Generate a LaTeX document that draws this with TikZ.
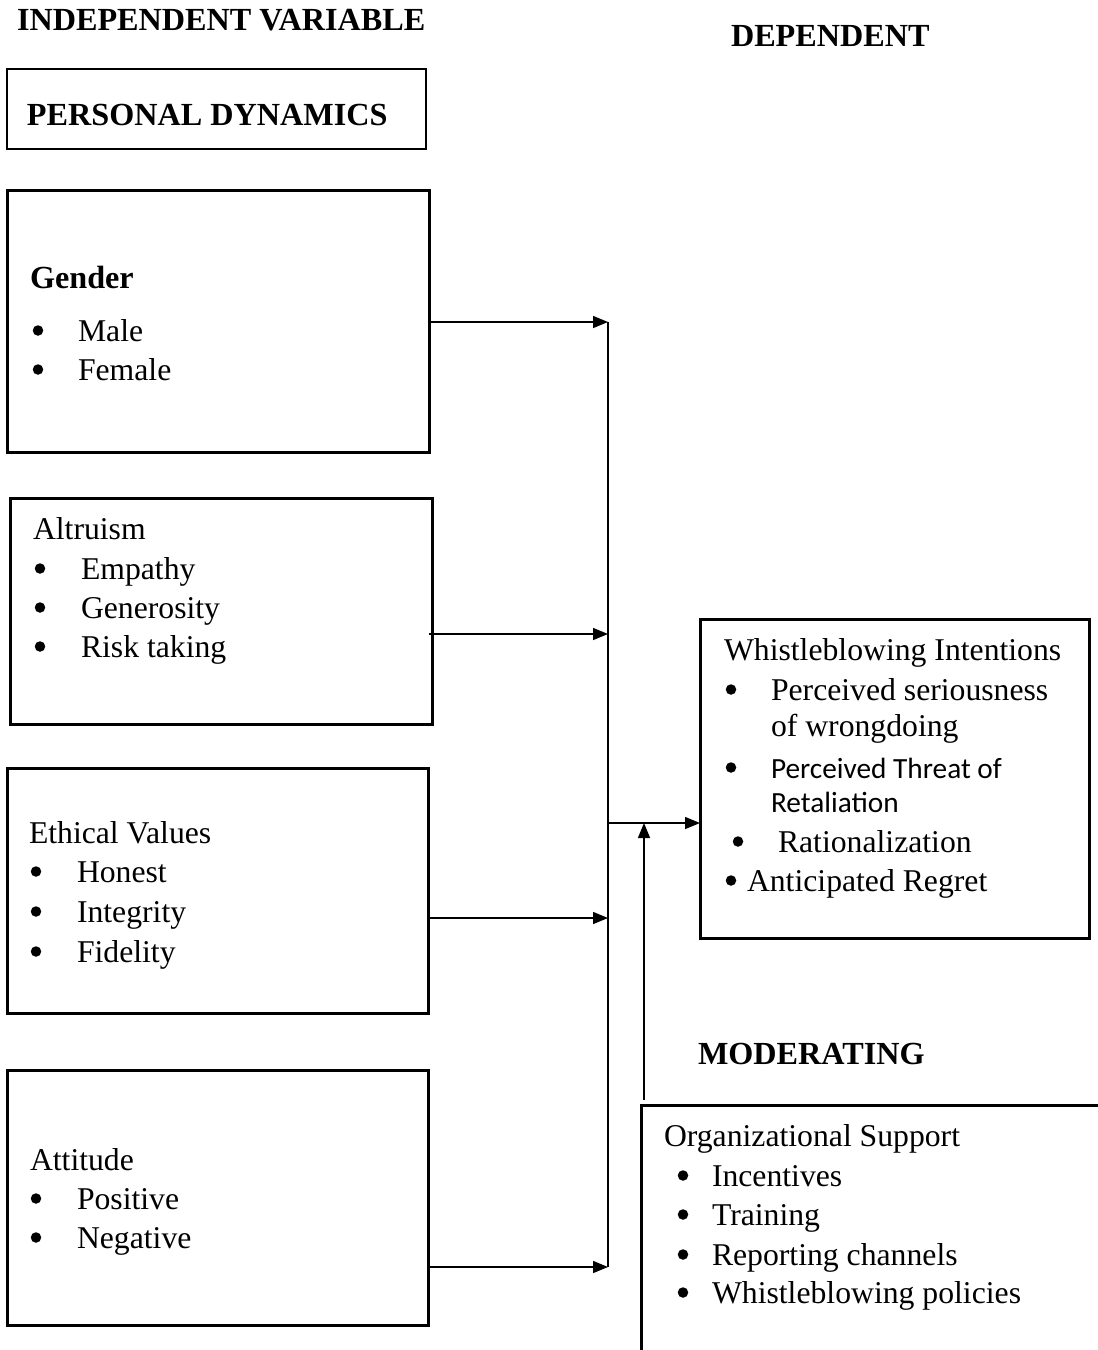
\documentclass[tikz,border=0pt]{standalone}
\usepackage{fontspec}
\setmainfont{Liberation Serif}
\newfontfamily\calfont{Carlito}
\usetikzlibrary{arrows.meta}
\begin{document}
\begin{tikzpicture}[x=1pt,y=-1pt,
  every node/.style={inner sep=0pt, outer sep=0pt},
  txt/.style={anchor=base west, font=\fontsize{31.7}{38}\selectfont},
  btxt/.style={anchor=base west, font=\fontsize{32.2}{38}\selectfont\bfseries},
  ctxt/.style={anchor=base west, font=\fontsize{29.3}{35}\selectfont\calfont},
  dot/.style={circle, fill=black, minimum size=10.5pt},
  thickbox/.style={draw, line width=3pt, rectangle, anchor=north west},
  thinbox/.style={draw, line width=1.2pt, rectangle, anchor=north west},
  arr/.style={line width=1.5pt, -{Triangle[length=15pt,width=12pt]}},
  ln/.style={line width=1.5pt}]
\useasboundingbox (0,0) rectangle (1098,1350);

% titles
\node[btxt] (indep) at (17,30) {INDEPENDENT VARIABLE};
\node[btxt] (dep) at (731,46) {DEPENDENT};
\node[btxt] (mod) at (698,1064) {MODERATING};

% personal dynamics
\node[thinbox, minimum width=419pt, minimum height=80pt] (pd) at (7,69) {};
\node[btxt] (pdt) at (27,125) {PERSONAL DYNAMICS};

% gender
\node[thickbox, minimum width=422pt, minimum height=262pt] (gender) at (7,190) {};
\node[btxt] (g0) at (30,288) {Gender};
\node[dot] (g1d) at (38,330.5) {};
\node[txt] (g1) at (78,341) {Male};
\node[dot] (g2d) at (38,369.5) {};
\node[txt] (g2) at (78,380) {Female};

% altruism
\node[thickbox, minimum width=422pt, minimum height=226pt] (altr) at (10,498) {};
\node[txt] (a0) at (33,539) {Altruism};
\node[dot] (a1d) at (40,568.5) {};
\node[txt] (a1) at (81,579) {Empathy};
\node[dot] (a2d) at (40,607.5) {};
\node[txt] (a2) at (81,618) {Generosity};
\node[dot] (a3d) at (40,646.5) {};
\node[txt] (a3) at (81,657) {Risk taking};

% ethical values
\node[thickbox, minimum width=421pt, minimum height=245pt] (eth) at (7,768) {};
\node[txt] (e0) at (29,843) {Ethical Values};
\node[dot] (e1d) at (36,871.5) {};
\node[txt] (e1) at (77,882) {Honest};
\node[dot] (e2d) at (36,911.5) {};
\node[txt] (e2) at (77,922) {Integrity};
\node[dot] (e3d) at (36,951.5) {};
\node[txt] (e3) at (77,962) {Fidelity};

% attitude
\node[thickbox, minimum width=421pt, minimum height=255pt] (att) at (7,1070) {};
\node[txt] (t0) at (30,1170) {Attitude};
\node[dot] (t1d) at (36,1198.5) {};
\node[txt] (t1) at (77,1209) {Positive};
\node[dot] (t2d) at (36,1237.5) {};
\node[txt] (t2) at (77,1248) {Negative};

% whistleblowing intentions
\node[thickbox, minimum width=389pt, minimum height=319pt] (wb) at (700,619) {};
\node[txt] (w0) at (724,660) {Whistleblowing Intentions};
\node[dot] (w1d) at (731,689.5) {};
\node[txt] (w1) at (771,700) {Perceived seriousness};
\node[txt] (w2) at (771,736) {of wrongdoing};
\node[dot] (w3d) at (731,767.5) {};
\node[ctxt] (w3) at (771,778) {Perceived Threat of};
\node[ctxt] (w4) at (771,812) {Retaliation};
\node[dot] (w5d) at (738,841.5) {};
\node[txt] (w5) at (778,852) {Rationalization};
\node[dot] (w6d) at (731,880.5) {};
\node[txt] (w6) at (747,891) {Anticipated Regret};

% organizational support (open box)
\coordinate (os) at (641,1105);
\draw[line width=3pt] (641,1350) -- (os) -- (1098,1105);
\node[txt] (o0) at (664,1146) {Organizational Support};
\node[dot] (o1d) at (683,1175.5) {};
\node[txt] (o1) at (712,1186) {Incentives};
\node[dot] (o2d) at (683,1214.5) {};
\node[txt] (o2) at (712,1225) {Training};
\node[dot] (o3d) at (683,1254.5) {};
\node[txt] (o3) at (712,1265) {Reporting channels};
\node[dot] (o4d) at (683,1292.5) {};
\node[txt] (o4) at (712,1303) {Whistleblowing policies};

% connectors
\coordinate (b1) at (608,322);
\coordinate (b2) at (608,634);
\coordinate (b3) at (608,918);
\coordinate (b4) at (608,1267);
\coordinate (j) at (608,823);
\coordinate (up) at (644,823);
\coordinate (osup) at (644,1100);
\draw[ln] (b1) -- (b4);
\draw[arr] (gender.east |- b1) -- (b1);
\draw[arr] (altr.east |- b2) ++(-3,0) -- (b2);
\draw[arr] (eth.east |- b3) -- (b3);
\draw[arr] (att.east |- b4) -- (b4);
\draw[arr] (j) -- (wb.west |- j);
\draw[arr] (osup) -- (up);
\end{tikzpicture}
\end{document}
